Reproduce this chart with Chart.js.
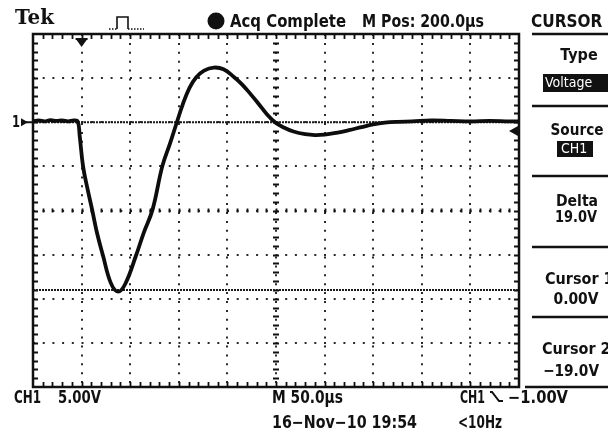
<!DOCTYPE html>
<html>
<head>
<meta charset="utf-8">
<script src="https://cdn.jsdelivr.net/npm/chart.js@4"></script>
<style>
  html, body { margin: 0; padding: 0; background: #fff; }
  canvas { display: block; }
</style>
</head>
<body>
<canvas id="scope" width="608" height="432"></canvas>
<script>
// CH1 trace (time in µs from left edge, volts)
const timeUs = [0, 6, 12, 18, 24, 30, 36, 42, 46, 48, 51.5, 56, 61, 66, 72, 80, 87.6, 95, 106, 114, 123, 133, 141, 148, 154, 161, 168, 176, 186, 196, 207, 215, 223, 232, 240, 249, 258, 268, 280, 290, 300, 312, 325, 338, 350, 362, 375, 390, 410, 430, 450, 470, 490, 500];
const ch1Volts = [0.1, 0.2, 0.1, 0.25, 0.15, 0.2, 0.1, 0.2, 0.1, -1.5, -5, -7.5, -10, -12.6, -15.1, -18.2, -19.2, -18.3, -15.1, -12.5, -9.9, -5, -2.4, 0, 2.0, 3.9, 5.1, 5.85, 6.2, 6.0, 5.1, 4.3, 3.3, 2.1, 1.0, 0, -0.6, -1.05, -1.35, -1.45, -1.4, -1.2, -0.9, -0.55, -0.25, -0.05, 0.05, 0.1, 0.2, 0.15, 0.1, 0.15, 0.1, 0.1];

const cursorVolts = [0, -19];      // Cursor 1, Cursor 2
const timeRange = [0, 500];        // 10 div x 50.0 µs
const voltRange = [-30, 10];       // 8 div x 5.00 V, ground 2 div from top
const trigLevel = -1;
const trigTime = 50;

const FONT = '"DejaVu Sans Condensed", "Liberation Sans Narrow", sans-serif';

const trace = timeUs.map((t, i) => ({ x: t, y: ch1Volts[i] }));
const cursorSets = cursorVolts.map(v => ({
  data: [{ x: timeRange[0], y: v }, { x: timeRange[1], y: v }],
  borderColor: '#1a1a1a',
  borderWidth: 2,
  borderDash: [2, 1],
  pointRadius: 0,
  tension: 0,
}));

const scopeDecor = {
  id: 'scopeDecor',
  beforeDatasetsDraw(chart) {
    const { ctx, chartArea: a, scales: { x, y } } = chart;
    ctx.save();
    ctx.strokeStyle = '#111';
    // frame
    ctx.lineWidth = 2.5;
    ctx.strokeRect(a.left, a.top, a.right - a.left, a.bottom - a.top);
    // minor ticks on frame and centre lines
    ctx.lineWidth = 1.8;
    const cx = x.getPixelForValue(250), cy = y.getPixelForValue(-10);
    for (let t = timeRange[0] + 10; t < timeRange[1]; t += 10) {
      const px = Math.round(x.getPixelForValue(t)) + 0.5;
      ctx.beginPath();
      ctx.moveTo(px, a.top); ctx.lineTo(px, a.top + 5);
      ctx.moveTo(px, a.bottom); ctx.lineTo(px, a.bottom - 5);
      ctx.moveTo(px, cy - 2); ctx.lineTo(px, cy + 2);
      ctx.stroke();
    }
    for (let v = voltRange[0] + 1; v < voltRange[1]; v++) {
      const py = Math.round(y.getPixelForValue(v)) + 0.5;
      ctx.beginPath();
      ctx.moveTo(a.left, py); ctx.lineTo(a.left + 5, py);
      ctx.moveTo(a.right, py); ctx.lineTo(a.right - 5, py);
      ctx.moveTo(cx - 3, py); ctx.lineTo(cx + 3, py);
      ctx.stroke();
    }
    ctx.restore();
  },
  afterDraw(chart) {
    const { ctx, chartArea: a, scales: { x, y } } = chart;
    ctx.save();
    ctx.fillStyle = '#111';
    ctx.strokeStyle = '#111';

    // ground marker "1▸"
    const gy = y.getPixelForValue(0);
    ctx.font = 'bold 15px ' + FONT;
    ctx.textBaseline = 'middle';
    ctx.fillText('1', 12, gy + 1, 8);
    ctx.beginPath();
    ctx.moveTo(21, gy - 4); ctx.lineTo(28, gy); ctx.lineTo(21, gy + 4); ctx.closePath(); ctx.fill();
    ctx.fillRect(26, gy - 1, 7, 2);

    // trigger position marker
    const tx = x.getPixelForValue(trigTime);
    ctx.fillRect(tx - 6, a.top + 4, 12, 2);
    ctx.beginPath();
    ctx.moveTo(tx - 5, a.top + 6); ctx.lineTo(tx + 5, a.top + 6); ctx.lineTo(tx, a.top + 13); ctx.closePath(); ctx.fill();

    // trigger level marker
    const ty = y.getPixelForValue(trigLevel);
    ctx.beginPath();
    ctx.moveTo(a.right - 10, ty); ctx.lineTo(a.right - 1, ty - 5); ctx.lineTo(a.right - 1, ty + 5); ctx.closePath(); ctx.fill();

    // header
    ctx.textBaseline = 'alphabetic';
    ctx.font = 'bold 21px "DejaVu Serif", "Liberation Serif", serif';
    ctx.fillText('Tek', 15, 24, 39);
    ctx.lineWidth = 1.6;
    ctx.beginPath();
    ctx.moveTo(117, 29); ctx.lineTo(117, 17); ctx.lineTo(128, 17); ctx.lineTo(128, 29);
    ctx.stroke();
    ctx.setLineDash([1.5, 1.5]);
    ctx.beginPath();
    ctx.moveTo(109, 29); ctx.lineTo(117, 29);
    ctx.moveTo(128, 29); ctx.lineTo(144, 29);
    ctx.stroke();
    ctx.setLineDash([]);
    ctx.beginPath(); ctx.arc(216, 21, 8.5, 0, Math.PI * 2); ctx.fill();

    ctx.font = 'bold 17px ' + FONT;
    ctx.fillText('Acq Complete', 230, 27, 116);
    ctx.fillText('M Pos: 200.0µs', 362, 27, 122);
    ctx.fillText('CURSOR', 531, 27);

    // side menu separators
    ctx.lineWidth = 2.5;
    [34, 106, 176, 247, 317].forEach(yy => {
      ctx.beginPath(); ctx.moveTo(532, yy); ctx.lineTo(608, yy); ctx.stroke();
    });
    ctx.beginPath(); ctx.moveTo(525, 387); ctx.lineTo(608, 387); ctx.stroke();

    ctx.font = 'bold 16px ' + FONT;
    ctx.textBaseline = 'middle';
    ctx.textAlign = 'center';
    ctx.fillText('Type', 579, 56, 38);
    ctx.fillRect(543, 74, 65, 18);
    ctx.fillText('Source', 577, 131, 53);
    ctx.fillRect(557, 141, 36, 16);
    ctx.fillText('Delta', 577, 202, 42);
    ctx.fillText('19.0V', 576, 218, 42);
    ctx.fillText('0.00V', 576, 300, 45);
    ctx.fillText('−19.0V', 571, 372, 56);
    ctx.textAlign = 'left';
    ctx.fillText('Cursor 1', 545, 280);
    ctx.fillText('Cursor 2', 542, 350);

    ctx.fillStyle = '#fff';
    ctx.font = '14px ' + FONT;
    ctx.fillText('Voltage', 545, 83);
    ctx.fillText('CH1', 561, 149);

    // footer
    ctx.fillStyle = '#111';
    ctx.font = 'bold 17px ' + FONT;
    ctx.textBaseline = 'alphabetic';
    ctx.fillText('CH1', 14, 403, 27);
    ctx.fillText('5.00V', 58, 403, 43);
    ctx.fillText('M 50.0µs', 272, 403, 71);
    ctx.fillText('16−Nov−10 19:54', 272, 428, 145);
    ctx.fillText('CH1', 460, 403, 25);
    ctx.fillText('−1.00V', 508, 403, 60);
    ctx.fillText('<10Hz', 458, 428, 44);
    ctx.lineWidth = 2;
    ctx.beginPath();
    ctx.moveTo(490, 392); ctx.lineTo(492, 392); ctx.lineTo(499, 401); ctx.lineTo(503, 401);
    ctx.stroke();
    ctx.restore();
  }
};

new Chart(document.getElementById('scope'), {
  type: 'line',
  data: {
    datasets: [
      {
        data: trace,
        borderColor: '#0d0d0d',
        borderWidth: 3.8,
        pointRadius: 0,
        tension: 0.4,
      },
      ...cursorSets,
    ],
  },
  options: {
    responsive: false,
    animation: false,
    devicePixelRatio: 1,
    layout: { padding: { left: 33, top: 34, right: 89, bottom: 45 } },
    plugins: { legend: { display: false }, tooltip: { enabled: false } },
    scales: {
      x: {
        type: 'linear',
        min: timeRange[0],
        max: timeRange[1],
        ticks: { display: false, stepSize: 50 },
        grid: { color: '#2a2a2a', lineWidth: 2, drawTicks: false },
        border: { display: false, dash: [2, 6.9] },
      },
      y: {
        type: 'linear',
        min: voltRange[0],
        max: voltRange[1],
        ticks: { display: false, stepSize: 5 },
        grid: { color: '#2a2a2a', lineWidth: 2, drawTicks: false },
        border: { display: false, dash: [2, 7.7] },
      },
    },
  },
  plugins: [scopeDecor],
});
</script>
</body>
</html>
